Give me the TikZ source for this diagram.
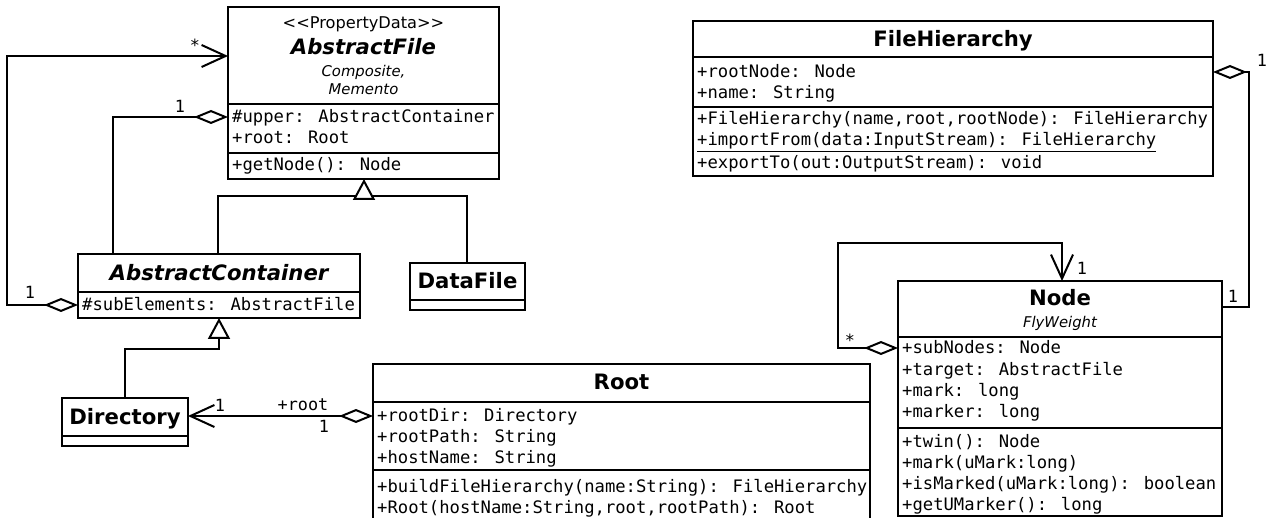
\documentclass[tikz,border=0pt]{standalone}
\usepackage{fontspec}
\setmainfont{DejaVu Sans}[ItalicFont={DejaVu Sans Oblique},BoldFont={DejaVu Sans Bold},BoldItalicFont={DejaVu Sans Bold Oblique}]
\newfontfamily\monof{DejaVu Sans Mono}
\usetikzlibrary{arrows.meta}
\tikzset{
  classbox/.style={draw, line width=2pt, fill=white, inner sep=0pt, outer sep=0pt, anchor=north west},
  sepline/.style={line width=2pt},
  attr/.style={anchor=base west, inner sep=0pt, font=\monof\fontsize{17.2}{20}\selectfont},
  cname/.style={anchor=base, inner sep=0pt, font=\bfseries\fontsize{21.2}{25}\selectfont},
  aname/.style={anchor=base, inner sep=0pt, font=\bfseries\itshape\fontsize{21.2}{25}\selectfont},
  pnote/.style={anchor=base, inner sep=0pt, font=\itshape\fontsize{14.8}{17}\selectfont},
  stereo/.style={anchor=base, inner sep=0pt, font=\fontsize{16.2}{19}\selectfont},
  mult/.style={anchor=base, inner sep=0pt, font=\monof\fontsize{16.8}{20}\selectfont},
  conn/.style={line width=2pt},
  agg/.style={{Diamond[fill=white,length=34pt,width=14pt]}-},
  aggnav/.style={{Diamond[fill=white,length=34pt,width=14pt]}-{Straight Barb[length=24pt,width=22pt]}},
  gen/.style={-{Triangle[fill=white,length=21pt,width=22pt]}},
}
\begin{document}
\begin{tikzpicture}[x=1pt,y=-1pt]
\useasboundingbox (0,0) rectangle (1274,518);
\clip (0,0) rectangle (1274,518);
\fill[white] (0,0) rectangle (1274,518);

% ---------- AbstractFile
\node[classbox, minimum width=271pt, minimum height=172pt] (af) at (228,7) {};
\draw[sepline] (228,104) -- (499,104);
\draw[sepline] (228,153) -- (499,153);
\node[stereo] (afS) at (363.5,29) {<{}<PropertyData>{}>};
\node[aname] (afT) at (363.5,54.5) {AbstractFile};
\node[pnote] (afN1) at (363.5,76.5) {Composite,};
\node[pnote] (afN2) at (363.5,94.5) {Memento};
\node[attr] (afA1) at (232,123) {\#upper: AbstractContainer};
\node[attr] (afA2) at (232,144) {+root: Root};
\node[attr] (afM1) at (232,171) {+getNode(): Node};

% ---------- AbstractContainer
\node[classbox, minimum width=282pt, minimum height=64pt] (ac) at (78,254) {};
\draw[sepline] (78,292) -- (360,292);
\node[aname] (acT) at (219,280.5) {AbstractContainer};
\node[attr] (acA1) at (82,311) {\#subElements: AbstractFile};

% ---------- DataFile
\node[classbox, minimum width=115pt, minimum height=47pt] (df) at (410,263) {};
\draw[sepline] (410,300) -- (525,300);
\node[cname] (dfT) at (467.5,288.5) {DataFile};

% ---------- Directory
\node[classbox, minimum width=126pt, minimum height=48pt] (dir) at (62,398) {};
\draw[sepline] (62,436) -- (188,436);
\node[cname] (dirT) at (125,424.5) {Directory};

% ---------- Root
\node[classbox, minimum width=497pt, minimum height=170pt] (root) at (373,364) {};
\draw[sepline] (373,402) -- (870,402);
\draw[sepline] (373,470) -- (870,470);
\node[cname] (rootT) at (621.5,389.5) {Root};
\node[attr] (rootA1) at (377,421) {+rootDir: Directory};
\node[attr] (rootA2) at (377,442) {+rootPath: String};
\node[attr] (rootA3) at (377,463) {+hostName: String};
\node[attr] (rootM1) at (377,492) {+buildFileHierarchy(name:String): FileHierarchy};
\node[attr] (rootM2) at (377,513) {+Root(hostName:String,root,rootPath): Root};

% ---------- FileHierarchy
\node[classbox, minimum width=520pt, minimum height=155pt] (fh) at (693,21) {};
\draw[sepline] (693,57) -- (1213,57);
\draw[sepline] (693,107) -- (1213,107);
\node[cname] (fhT) at (953,46.5) {FileHierarchy};
\node[attr] (fhA1) at (697,78) {+rootNode: Node};
\node[attr] (fhA2) at (697,99) {+name: String};
\node[attr] (fhM1) at (697,125) {+FileHierarchy(name,root,rootNode): FileHierarchy};
\node[attr] (fhM2) at (697,146) {\underline{+importFrom(data:InputStream): FileHierarchy}};
\node[attr] (fhM3) at (697,169) {+exportTo(out:OutputStream): void};

% ---------- Node
\node[classbox, minimum width=324pt, minimum height=235pt] (nd) at (898,281) {};
\draw[sepline] (898,337) -- (1222,337);
\draw[sepline] (898,428) -- (1222,428);
\node[cname] (ndT) at (1060,305.5) {Node};
\node[pnote] (ndN) at (1060,327.5) {FlyWeight};
\node[attr] (ndA1) at (902,354) {+subNodes: Node};
\node[attr] (ndA2) at (902,375.3) {+target: AbstractFile};
\node[attr] (ndA3) at (902,396.6) {+mark: long};
\node[attr] (ndA4) at (902,417.9) {+marker: long};
\node[attr] (ndM1) at (902,447) {+twin(): Node};
\node[attr] (ndM2) at (902,468.3) {+mark(uMark:long)};
\node[attr] (ndM3) at (902,489.6) {+isMarked(uMark:long): boolean};
\node[attr] (ndM4) at (902,510.9) {+getUMarker(): long};

% ---------- attachment points
\coordinate (acSub) at (78,305);
\coordinate (afNav) at (228,56);
\coordinate (afUp) at (228,117);
\coordinate (acUp) at (113,254);
\coordinate (acGen) at (218,254);
\coordinate (dfGen) at (467,263);
\coordinate (afJoin) at (364,196);
\coordinate (afGen) at (364,179);
\coordinate (dirGen) at (125,398);
\coordinate (acGenB) at (219,318);
\coordinate (rootDir) at (373,416);
\coordinate (dirNav) at (188,416);
\coordinate (ndSub) at (898,348);
\coordinate (ndTop) at (1062,281);
\coordinate (fhRoot) at (1213,72);
\coordinate (ndRight) at (1222,307);

% ---------- connectors
\draw[conn, aggnav] (acSub) -- ++(-71,0) |- (afNav);
\draw[conn, agg] (afUp) -| (acUp);
\draw[conn] (acGen) |- (afJoin) -| (dfGen);
\draw[conn, gen] (afJoin) -- (afGen);
\draw[conn, gen] (dirGen) |- (219,349) -- (acGenB);
\draw[conn, aggnav] (rootDir) -- (dirNav);
\draw[conn, aggnav] (ndSub) -- (838,348) |- (1062,243) -- (ndTop);
\draw[conn, agg] (fhRoot) -- (1249,72) |- (ndRight);

% ---------- multiplicities
\node[mult] (m1) at (180,113) {1};
\node[mult] (m2) at (195,52) {*};
\node[mult] (m3) at (30,299) {1};
\node[mult] (m4) at (220,411) {1};
\node[mult] (m5) at (303,410) {+root};
\node[mult] (m6) at (324,432) {1};
\node[mult] (m7) at (1262,67) {1};
\node[mult] (m8) at (1233,303) {1};
\node[mult] (m9) at (1082,275) {1};
\node[mult] (m10) at (850,347) {*};
\end{tikzpicture}
\end{document}
